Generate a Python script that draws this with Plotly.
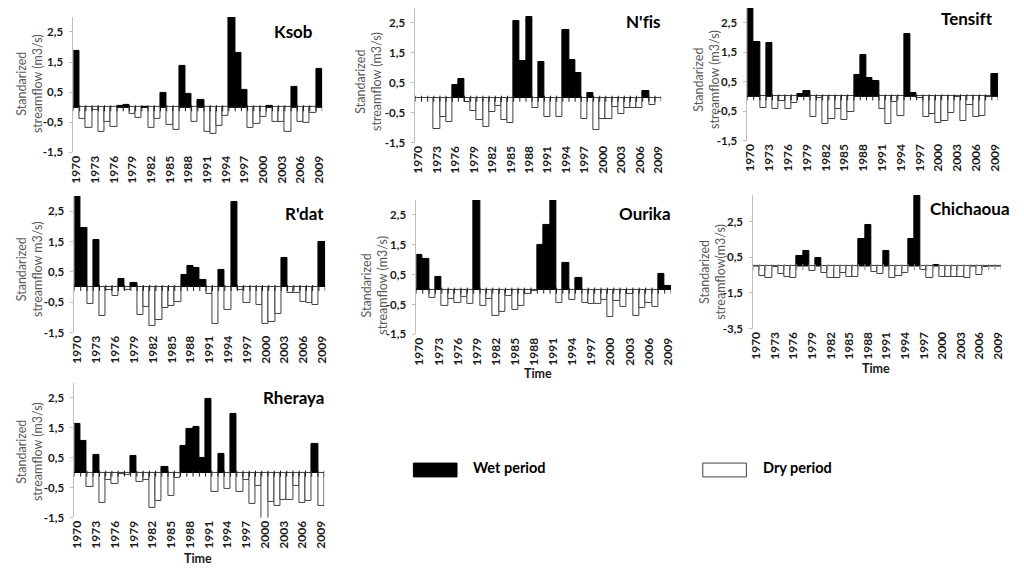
import plotly.graph_objects as go

# page is 1024x575 but the html body keeps an 8px margin
PAD = 8
W, H = 1024 - 2 * PAD, 575 - 2 * PAD

years = list(range(1970, 2010))
tick_years = list(range(1970, 2010, 3))

ksob = [1.87, -0.38, -0.70, -0.08, -0.82, -0.50, -0.65, 0.05, 0.08, -0.22,
        -0.35, 0.02, -0.70, -0.40, 0.47, -0.58, -0.75, 1.38, 0.44, -0.49,
        0.23, -0.82, -0.87, -0.61, -0.28, 3.00, 1.79, 0.56, -0.70, -0.55,
        -0.33, 0.04, -0.49, -0.49, -0.82, 0.68, -0.49, -0.52, -0.20, 1.27]
nfis = [0, 0, 0, -1.04, -0.66, -0.82, 0.44, 0.63, -0.14, -0.46,
        -0.75, -0.98, -0.49, -0.27, -0.75, -0.84, 2.55, 1.22, 2.69, -0.36,
        1.21, -0.64, 0, -0.64, 2.28, 1.27, 0.82, -0.71, 0.16, -1.07,
        -0.71, -0.71, -0.30, -0.53, -0.34, -0.34, -0.34, 0.24, -0.23, -0.02]
tensift = [3.00, 1.84, -0.39, 1.80, -0.43, -0.17, -0.44, -0.22, 0.09, 0.17,
           -0.71, -0.04, -0.93, -0.77, -0.44, -0.80, -0.52, 0.74, 1.42, 0.62,
           0.52, -0.44, -0.93, -0.19, -0.65, 2.13, 0.11, -0.04, -0.69, -0.61,
           -0.91, -0.82, -0.58, -0.02, -0.85, -0.30, -0.69, -0.65, -0.02, 0.77]
rdat = [3.00, 1.95, -0.55, 1.55, -0.96, -0.11, -0.28, 0.26, -0.09, 0.12,
        -0.91, -0.67, -1.30, -1.10, -0.70, -0.62, -0.51, 0.39, 0.68, 0.63,
        0.22, -0.22, -1.21, 0.55, -0.77, 2.80, -0.11, -0.54, 0, -0.59,
        -1.21, -1.15, -0.88, 0.95, -0.20, -0.20, -0.48, -0.54, -0.58, 1.48]
ourika = [1.15, 1.04, -0.29, 0.43, -0.53, -0.32, -0.44, -0.24, -0.49, 3.00,
          -0.53, -0.31, -0.89, -0.76, -0.20, -0.69, -0.55, -0.13, -0.05, 1.51,
          2.15, 3.00, -0.43, 0.89, -0.33, 0.38, -0.43, -0.49, -0.49, -0.33,
          -0.91, -0.38, -0.57, -0.16, -0.88, -0.60, -0.45, -0.57, 0.53, 0.13]
chichaoua = [0, -0.55, -0.64, -0.02, -0.44, -0.60, -0.64, 0.57, 0.83, -0.24,
             0.48, -0.39, -0.68, -0.64, -0.40, -0.62, -0.62, 1.52, 2.33, -0.35,
             -0.42, 0.86, -0.68, -0.55, -0.39, 1.52, 3.95, -0.22, -0.68, 0.05,
             -0.62, -0.62, -0.62, -0.62, -0.68, 0, -0.51, -0.02, 0, 0]
rheraya = [1.63, 1.07, -0.49, 0.60, -1.02, -0.23, -0.39, -0.03, -0.08, 0.57,
           -0.31, -0.25, -1.18, -0.93, 0.19, -0.79, -0.19, 0.88, 1.46, 1.52,
           0.49, 2.47, -0.64, 0.64, -0.56, 1.95, -0.66, -0.23, -1.04, -0.45,
           -1.55, -0.99, -1.10, -0.90, -0.90, -0.45, -1.00, -0.93, 0.95, -1.10]

ytick_vals = [-1.5, -0.5, 0.5, 1.5, 2.5]
ytick_text = ["-1,5", "-0,5", "0,5", "1,5", "2,5"]
ytick_vals_chi = [-3.5, -1.5, 0.5, 2.5]
ytick_text_chi = ["-3,5", "-1,5", "0,5", "2,5"]

FONT = "Lato"
ZWNJ = "\u200c"  # keeps "fi" from turning into a ligature

# name, values, y-title, plot box in px (x0, x1, ytop, ybottom), y range, ticks, title pos, y-title pos, Time label
panels = [
    ("Ksob", ksob, "Standarized<br>streamflow (m3/s)", (69, 320, 17, 154), (-1.5, 3.0),
     ytick_vals, ytick_text, (313, 32), (24, 84), None),
    ("N'f" + ZWNJ + "is", nfis, "Standarized<br>streamflow (m3/s)", (414, 662, 8, 144), (-1.5, 3.0),
     ytick_vals, ytick_text, (664, 22), (366, 82), None),
    ("Tensif" + ZWNJ + "t", tensift, "Standarized<br>streamflow (m3/s)", (749, 1002, 8, 142), (-1.5, 3.0),
     ytick_vals, ytick_text, (999, 19), (707, 80), None),
    ("R'dat", rdat, "Standarized<br>streamflow m3/s)", (70, 323, 198, 336), (-1.5, 3.0),
     ytick_vals, ytick_text, (324, 216), (24, 272), None),
    ("Ourika", ourika, "Standarized<br>streamflow (m3/s)", (415, 672, 202, 338), (-1.5, 3.0),
     ytick_vals, ytick_text, (674, 216), (373, 288), (538, 377)),
    ("Chichaoua", chichaoua, "Standarized<br>streamflow(m3/s)", (755, 1005, 197, 332), (-3.5, 4.0),
     ytick_vals_chi, ytick_text_chi, (1016, 211), (713, 275), (879, 372)),
    ("Rheraya", rheraya, "Standarized<br>streamflow (m3/s)", (70, 322, 387, 523), (-1.5, 3.0),
     ytick_vals, ytick_text, (325, 402), (24, 456), (195, 564)),
]


def fx(px):
    return min(max((px - PAD) / W, 0.0), 1.0)


def fy(py):
    return min(max(1 - (py - PAD) / H, 0.0), 1.0)


fig = go.Figure()
annotations = []
shapes = []
layout = {}

for i, (name, vals, ytitle, box, yr, tv, tt, tpos, ypos, timepos) in enumerate(panels):
    n = "" if i == 0 else str(i + 1)
    x0, x1, yt, yb = box
    fills = ["black" if v > 0 else "white" for v in vals]
    lines = ["black" if v > 0 else "#404040" for v in vals]
    fig.add_trace(go.Bar(
        x=years, y=vals, xaxis="x" + n, yaxis="y" + n,
        marker=dict(color=fills, line=dict(color=lines, width=1)),
        width=1.0, showlegend=False, hoverinfo="x+y",
    ))
    layout["xaxis" + n] = dict(
        domain=[fx(x0), fx(x1)], anchor="y" + n, range=[1969.5, 2009.5],
        tickvals=tick_years, ticktext=[str(t) for t in tick_years],
        tickangle=-90, showgrid=False, zeroline=False, showline=False,
        ticks="", tickfont=dict(family=FONT, size=12, color="#1a1a1a", weight="bold"),
    )
    zcol = "#8c8c8c" if name == "Chichaoua" else "#1a1a1a"
    layout["yaxis" + n] = dict(
        domain=[fy(yb), fy(yt)], anchor="x" + n, range=list(yr),
        tickvals=tv, ticktext=tt, showgrid=False,
        zeroline=True, zerolinecolor=zcol, zerolinewidth=1,
        showline=True, linecolor="#bfbfbf", linewidth=1,
        ticks="outside", ticklen=3, tickcolor="#bfbfbf", ticklabelstandoff=4,
        tickfont=dict(family=FONT, size=11.5, color="#1a1a1a", weight="bold"),
    )
    # small tick marks along the zero line, between the bars
    for yv in years + [years[-1] + 1]:
        shapes.append(dict(
            type="line", xref="x" + n, yref="y" + n, x0=yv - 0.5, x1=yv - 0.5,
            ysizemode="pixel", yanchor=0, y0=2, y1=-4,
            line=dict(color=zcol, width=1), layer="above",
        ))
    annotations.append(dict(
        text="<b>" + name + "</b>", x=fx(tpos[0]), y=fy(tpos[1]),
        xref="paper", yref="paper", xanchor="right", yanchor="middle",
        showarrow=False, font=dict(family=FONT, size=17, color="black"),
    ))
    annotations.append(dict(
        text=ytitle, x=fx(ypos[0]), y=fy(ypos[1]), xref="paper", yref="paper",
        xanchor="center", yanchor="middle", textangle=-90, showarrow=False,
        font=dict(family=FONT, size=12.5, color="#595959"),
    ))
    if timepos:
        annotations.append(dict(
            text="<b>Time</b>", x=fx(timepos[0]), y=fy(timepos[1]),
            xref="paper", yref="paper", xanchor="center", yanchor="middle",
            showarrow=False, font=dict(family=FONT, size=12.5, color="#1a1a1a"),
        ))

# legend drawn by hand
shapes += [
    dict(type="rect", xref="paper", yref="paper", x0=fx(412), x1=fx(456),
         y0=fy(482), y1=fy(468), fillcolor="black", line=dict(color="black", width=1)),
    dict(type="rect", xref="paper", yref="paper", x0=fx(704), x1=fx(748),
         y0=fy(482), y1=fy(468), fillcolor="white", line=dict(color="#404040", width=1)),
]
annotations.append(dict(text="<b>Wet period</b>", x=fx(470), y=fy(472), xref="paper",
                        yref="paper", xanchor="left", yanchor="middle", showarrow=False,
                        font=dict(family=FONT, size=14.5, color="black")))
annotations.append(dict(text="<b>Dry period</b>", x=fx(763), y=fy(472), xref="paper",
                        yref="paper", xanchor="left", yanchor="middle", showarrow=False,
                        font=dict(family=FONT, size=14.5, color="black")))

fig.update_layout(
    width=W, height=H, autosize=False, margin=dict(l=0, r=0, t=0, b=0),
    paper_bgcolor="white", plot_bgcolor="white", bargap=0,
    annotations=annotations, shapes=shapes, **layout,
)

fig.write_html("out.html")
